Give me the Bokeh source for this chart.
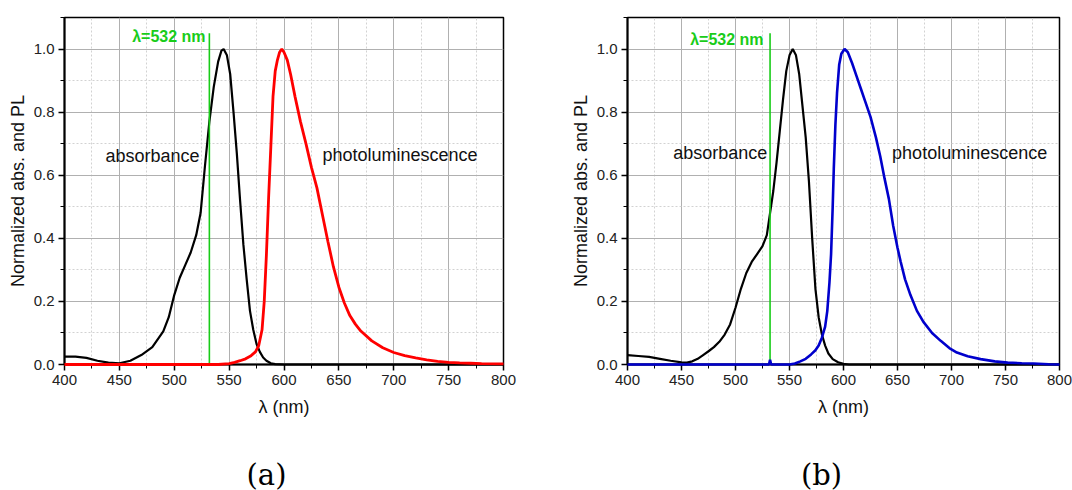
from bokeh.plotting import figure
from bokeh.models import Label, Range1d, FixedTicker, PrintfTickFormatter
from bokeh.layouts import row, column
from bokeh.embed import file_html
from bokeh.resources import INLINE

# ---------------- data ----------------
x_ticks = [400, 450, 500, 550, 600, 650, 700, 750, 800]
y_ticks = [0.0, 0.2, 0.4, 0.6, 0.8, 1.0]
laser_nm = 532
laser_top = 1.05
panel_letters = ["(a)", "(b)"]

# panel (a)
wl_abs_a = [400, 410, 420, 430, 440, 450, 460, 470, 480, 490, 495, 500, 505, 510, 515, 520, 524, 528,
            532, 536, 540, 543, 545, 548, 551, 554, 557, 560, 563, 566, 569, 572, 575, 578, 581, 584,
            588, 592, 600, 800]
abs_a = [0.025, 0.025, 0.021, 0.012, 0.006, 0.004, 0.012, 0.03, 0.055, 0.105, 0.15, 0.22, 0.275, 0.315,
         0.355, 0.41, 0.48, 0.63, 0.77, 0.88, 0.96, 0.995, 1.0, 0.98, 0.92, 0.8, 0.67, 0.52, 0.38, 0.27,
         0.17, 0.11, 0.065, 0.04, 0.022, 0.012, 0.004, 0.001, 0.0, 0.0]

wl_pl_a = [400, 540, 550, 555, 560, 565, 570, 574, 577, 580, 582, 584, 586, 588, 590, 592, 594, 596, 598,
           600, 603, 606, 610, 615, 620, 625, 630, 635, 640, 645, 650, 655, 660, 665, 670, 680, 690, 700,
           710, 720, 730, 740, 750, 760, 770, 780, 800]
pl_a = [0.0, 0.0, 0.003, 0.007, 0.012, 0.018, 0.028, 0.04, 0.06, 0.11, 0.2, 0.35, 0.53, 0.69, 0.85, 0.93,
        0.965, 0.99, 1.0, 0.99, 0.965, 0.92, 0.85, 0.77, 0.70, 0.625, 0.56, 0.475, 0.39, 0.31, 0.245, 0.195,
        0.155, 0.128, 0.106, 0.075, 0.053, 0.038, 0.028, 0.021, 0.015, 0.01, 0.007, 0.005, 0.004, 0.003, 0.002]

# panel (b)
wl_abs_b = [400, 410, 420, 430, 440, 450, 455, 460, 465, 470, 475, 480, 485, 490, 495, 500, 505, 510, 515,
            520, 525, 529, 532, 535, 538, 541, 544, 547, 550, 553, 556, 559, 562, 565, 568, 571, 574, 577,
            580, 583, 586, 590, 595, 600, 605, 800]
abs_b = [0.03, 0.027, 0.024, 0.018, 0.012, 0.007, 0.006, 0.01, 0.018, 0.03, 0.042, 0.055, 0.072, 0.095,
         0.127, 0.18, 0.24, 0.29, 0.325, 0.35, 0.375, 0.41, 0.48, 0.55, 0.64, 0.74, 0.84, 0.93, 0.98, 1.0,
         0.98, 0.92, 0.82, 0.72, 0.58, 0.40, 0.24, 0.15, 0.095, 0.06, 0.035, 0.017, 0.007, 0.002, 0.0, 0.0]

wl_pl_b = [400, 528, 531, 532, 533, 550, 555, 560, 565, 570, 574, 577, 580, 583, 585, 587, 588.5, 590, 591,
           592.5, 594, 596, 598, 601, 604, 608, 612, 616, 620, 625, 630, 634, 638, 642, 646, 650, 653, 657,
           662, 668, 674, 682, 690, 698, 705, 715, 727, 740, 752, 765, 776, 790, 800]
pl_b = [0.0, 0.0, 0.0, 0.015, 0.0, 0.0, 0.003, 0.01, 0.018, 0.032, 0.045, 0.06, 0.085, 0.12, 0.17, 0.26,
        0.35, 0.5, 0.62, 0.76, 0.86, 0.95, 0.985, 1.0, 0.99, 0.955, 0.915, 0.875, 0.835, 0.785, 0.72, 0.66,
        0.59, 0.525, 0.44, 0.37, 0.325, 0.27, 0.22, 0.17, 0.135, 0.1, 0.075, 0.052, 0.038, 0.026, 0.017,
        0.01, 0.006, 0.004, 0.003, 0.001, 0.0]

SANS = "Liberation Sans"
GREEN = "#19cc19"
PLOT_H = 436
LETTER_H = 54
W = 536


def make_panel(wl_abs, absv, wl_pl, plv, pl_color, pl_width, borders, lab):
    left, right, top, bottom = borders
    p = figure(width=W, height=PLOT_H, output_backend="svg", toolbar_location=None,
               x_range=Range1d(400, 800), y_range=Range1d(0, 1.1),
               min_border_left=left, min_border_right=right,
               min_border_top=top, min_border_bottom=bottom)
    p.background_fill_color = "white"
    p.border_fill_color = "white"
    p.outline_line_color = "black"
    p.outline_line_width = 1.5
    p.outline_line_alpha = 1.0

    p.xaxis.ticker = FixedTicker(ticks=x_ticks, minor_ticks=[400 + 25 * i for i in range(17)])
    p.yaxis.ticker = FixedTicker(ticks=y_ticks, minor_ticks=[0.1 * i for i in range(12)])
    p.xaxis.axis_label = "λ (nm)"
    p.yaxis.axis_label = "Normalized abs. and PL"
    for ax in (p.xaxis, p.yaxis):
        ax.axis_line_color = "black"
        ax.axis_line_width = 2
        ax.major_tick_line_color = "black"
        ax.major_tick_line_width = 1.5
        ax.minor_tick_line_color = "black"
        ax.minor_tick_line_width = 1
        ax.major_tick_out = 6
        ax.major_tick_in = 0
        ax.minor_tick_out = 4
        ax.minor_tick_in = 0
        ax.major_label_text_font = SANS
        ax.major_label_text_font_size = "15px"
        ax.major_label_text_color = "#222222"
        ax.axis_label_text_font = SANS
        ax.axis_label_text_font_size = "18px"
        ax.axis_label_text_font_style = "normal"
        ax.axis_label_text_color = "#111111"
        ax.major_label_standoff = 4
    p.xaxis.axis_label_standoff = 9
    p.yaxis.axis_label_standoff = 3
    p.yaxis.formatter = PrintfTickFormatter(format="%.1f")

    for g in (p.xgrid, p.ygrid):
        g.grid_line_color = "#b0b0b0"
        g.grid_line_width = 1
        g.minor_grid_line_color = "#d2d2d2"
        g.minor_grid_line_dash = "2 2"
        g.minor_grid_line_width = 1

    p.line(wl_abs, absv, line_color="black", line_width=2.2, level="overlay")
    p.segment(x0=[laser_nm], y0=[0.0], x1=[laser_nm], y1=[laser_top], line_color=GREEN, line_width=1.6,
              level="overlay")
    p.line(wl_pl, plv, line_color=pl_color, line_width=pl_width, level="overlay")

    (gx, gy), (ax_, ay), (px, py) = lab
    p.add_layout(Label(x=gx, y=gy, text="λ=532 nm", text_align="right", text_baseline="middle",
                       text_font=SANS, text_font_size="16px", text_font_style="bold", text_color=GREEN))
    p.add_layout(Label(x=ax_, y=ay, text="absorbance", text_align="right", text_baseline="middle",
                       text_font=SANS, text_font_size="18px", text_color="#111111"))
    p.add_layout(Label(x=px, y=py, text="photoluminescence", text_align="left", text_baseline="middle",
                       text_font=SANS, text_font_size="18px", text_color="#111111"))
    return p


def make_letter(letter, cx):
    q = figure(width=W, height=LETTER_H, output_backend="svg", toolbar_location=None,
               x_range=Range1d(0, W), y_range=Range1d(0, LETTER_H),
               x_axis_type=None, y_axis_type=None,
               min_border_left=0, min_border_right=0, min_border_top=0, min_border_bottom=0)
    q.outline_line_color = None
    q.xgrid.visible = False
    q.ygrid.visible = False
    q.background_fill_color = "white"
    q.border_fill_color = "white"
    q.add_layout(Label(x=cx, y=16, text=letter, text_align="center", text_baseline="middle",
                       text_font="DejaVu Serif", text_font_size="29px", text_color="black"))
    return q


p1 = make_panel(wl_abs_a, abs_a, wl_pl_a, pl_a, "#ff0000", 2.8,
                (64, 33, 13, PLOT_H - 364),
                ((528.5, 1.04), (523, 0.66), (635, 0.665)))
p2 = make_panel(wl_abs_b, abs_b, wl_pl_b, pl_b, "#0000cc", 2.6,
                (91, 13, 17, PLOT_H - 367),
                ((526, 1.03), (529.5, 0.67), (645, 0.67)))
l1 = make_letter(panel_letters[0], 266)
l2 = make_letter(panel_letters[1], 821 - W)

layout = column(row(p1, p2, spacing=0), row(l1, l2, spacing=0), spacing=0)
open("out.html", "w").write(file_html(layout, INLINE))
